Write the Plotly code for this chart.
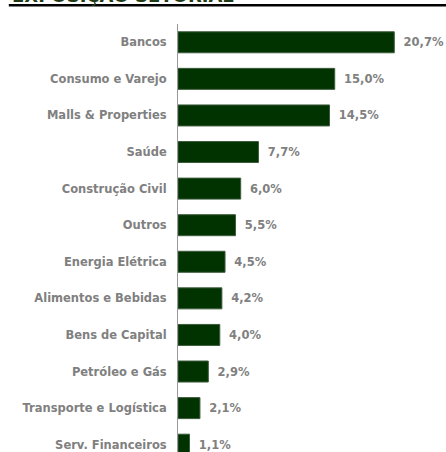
import plotly.graph_objects as go

categories = ["Bancos", "Consumo e Varejo", "Malls & Properties", "Saúde",
              "Construção Civil", "Outros", "Energia Elétrica", "Alimentos e Bebidas",
              "Bens de Capital", "Petróleo e Gás", "Transporte e Logística",
              "Serv. Financeiros"]
values = [20.7, 15.0, 14.5, 7.7, 6.0, 5.5, 4.5, 4.2, 4.0, 2.9, 2.1, 1.1]
title_text = "EXPOSIÇÃO SETORIAL"

W, H = 446, 452
ML, MT = 177.5, 23.7
plot_w = W - ML
plot_h = H - MT

def py(px):
    return 1 + (MT - px) / plot_h

def px_x(px):
    return (px - ML) / plot_w

fig = go.Figure(go.Bar(
    x=values, y=categories, orientation="h",
    marker=dict(color="#003300", line=dict(color="#3d5c3d", width=1)),
    texttemplate="\u2009 %{x:.1f}%", textposition="outside",
    textfont=dict(family="DejaVu Sans", size=11.5, color="#808080", weight="bold"),
    cliponaxis=False,
))

fig.update_layout(
    width=W, height=H,
    margin=dict(l=ML, r=0, t=MT, b=0, pad=0),
    paper_bgcolor="white", plot_bgcolor="white",
    separators=",.",
    showlegend=False,
    bargap=0.426,
    font=dict(family="DejaVu Sans", size=11.5, color="#808080"),
    xaxis=dict(range=[0, 25.65], visible=False, fixedrange=True),
    yaxis=dict(
        type="category", categoryorder="array", categoryarray=categories,
        range=[11.2, -0.5], autorange=False,
        showline=True, linecolor="#999999", linewidth=1,
        showgrid=False, zeroline=False, ticks="", ticklabelstandoff=8,
        tickfont=dict(family="DejaVu Sans", size=11.5, color="#808080", weight="bold"),
    ),
    annotations=[dict(
        text=title_text, xref="paper", yref="paper",
        x=px_x(9), y=py(8), xanchor="left", yanchor="bottom",
        showarrow=False,
        font=dict(family="DejaVu Sans", size=18, color="#1f3a14", weight="bold"),
    )],
    shapes=[dict(
        type="line", xref="paper", yref="paper",
        x0=px_x(8), x1=1.0, y0=py(5), y1=py(5),
        line=dict(color="black", width=2.5),
    )],
)

fig.write_html("out.html", config={"displayModeBar": False},
               post_script="document.body.style.margin='0';document.body.style.overflow='hidden';")
